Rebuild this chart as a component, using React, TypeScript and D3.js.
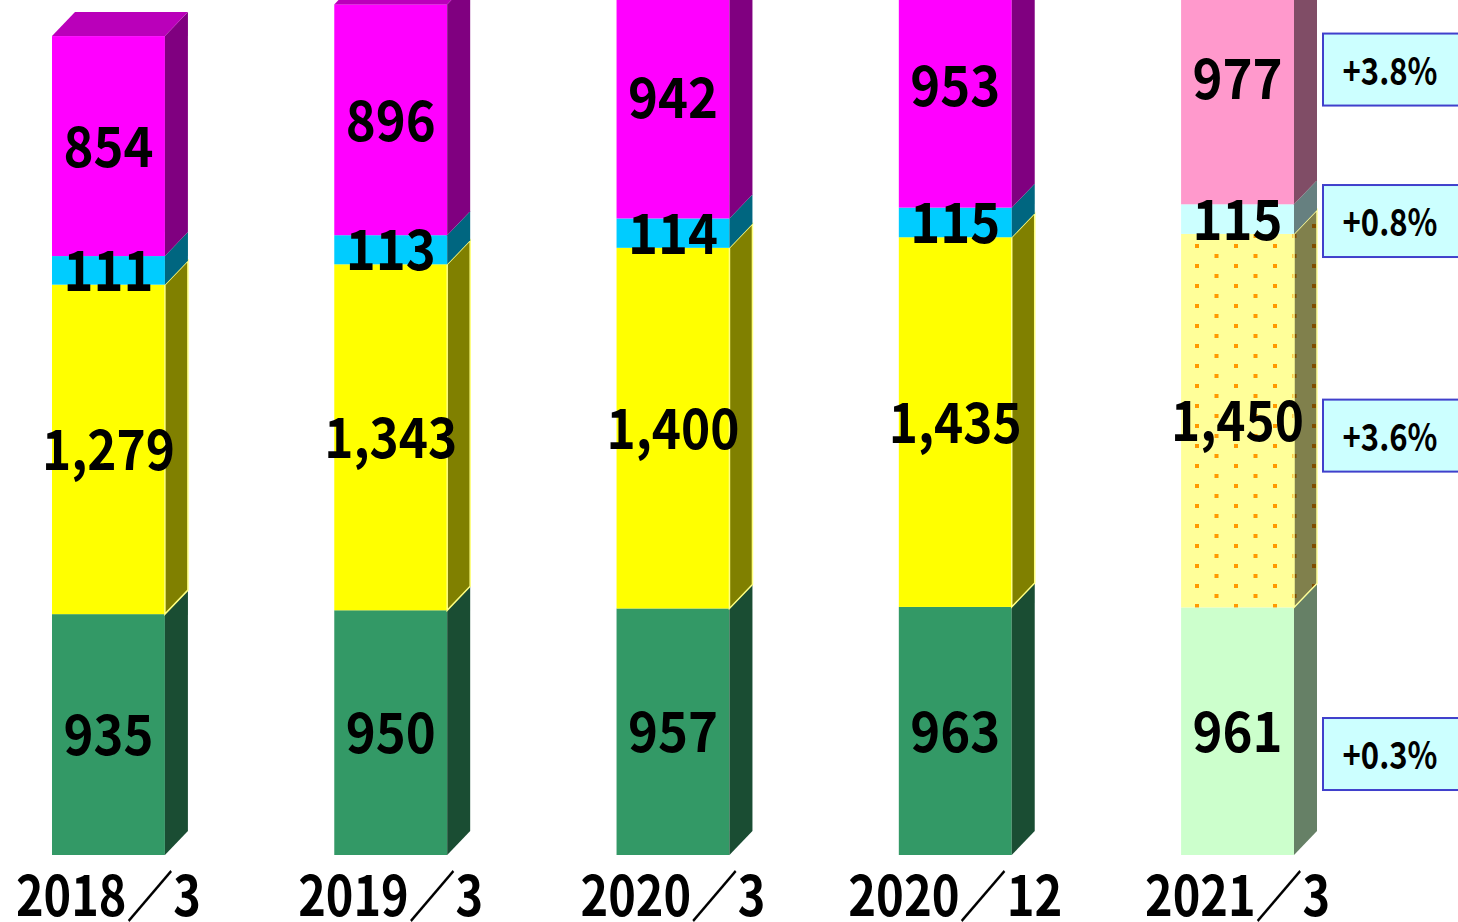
import { useEffect, useRef } from 'react';
import * as d3 from 'd3';

// categories (x axis) and stacked series, bottom -> top
const categories = ['2018／3', '2019／3', '2020／3', '2020／12', '2021／3'];
const greenValues = [935, 950, 957, 963, 961];
const yellowValues = [1279, 1343, 1400, 1435, 1450];
const cyanValues = [111, 113, 114, 115, 115];
const magentaValues = [854, 896, 942, 953, 977];

// growth annotations next to the last bar (anchor = value on y scale of the box centre)
const growthLabels = ['+0.3%', '+3.6%', '+0.8%', '+3.8%'];
const growthAnchors = [392, 1628, 2461, 3049];

const actualColors = ['#339966', '#FFFF00', '#00CCFF', '#FF00FF'];
const forecastColors = ['#CCFFCC', 'url(#dotFront)', '#CCFFFF', '#FF99CC'];
const forecastSideColors = ['#668066', 'url(#dotSide)', '#668080', '#804D66'];

const W = 1458;
const H = 922;
const DX = 23;
const DY = 24;
const FONT = '"Noto Sans CJK JP", "Noto Sans", sans-serif';

const shade = (c: string, k: number) => {
  const r = d3.rgb(c);
  return d3.rgb(r.r * k, r.g * k, r.b * k).formatHex();
};

// 元の図は字幅が狭いので、桁数から文字列の幅を決める
const numWidth = (s: string) => {
  let w = 0;
  for (const ch of s) {
    if (/[0-9]/.test(ch)) w += 30;
    else if (ch === ',') w += 13;
    else w += 40;
  }
  return w;
};
const catWidth = (s: string) => {
  let w = 0;
  for (const ch of s) w += /[0-9]/.test(ch) ? 29 : 40;
  return w;
};

export default function App() {
  const svgRef = useRef<SVGSVGElement | null>(null);

  useEffect(() => {
    if (!svgRef.current) return;
    const svg = d3.select(svgRef.current);
    svg.selectAll('*').remove();

    const x = d3.scaleBand().domain(categories).range([52, 1294]).paddingInner(0.6).paddingOuter(0);
    const y = d3.scaleLinear().domain([0, 3319]).range([855, 0]);
    const bw = x.bandwidth();

    // 予想の点模様
    const defs = svg.append('defs');
    const mkPattern = (id: string, bg: string, dot: string) => {
      const p = defs.append('pattern')
        .attr('id', id)
        .attr('patternUnits', 'userSpaceOnUse')
        .attr('x', 1195).attr('y', 244)
        .attr('width', 39).attr('height', 20);
      p.append('rect').attr('width', 39).attr('height', 20).attr('fill', bg);
      p.append('rect').attr('x', 0).attr('y', 0).attr('width', 4).attr('height', 4).attr('fill', dot);
      p.append('rect').attr('x', 19.5).attr('y', 10).attr('width', 4).attr('height', 4).attr('fill', dot);
    };
    mkPattern('dotFront', '#FFFF99', '#FF9900');
    mkPattern('dotSide', '#80804C', '#804D00');

    const stackData = categories.map((c, i) => ({
      cat: c,
      s0: greenValues[i],
      s1: yellowValues[i],
      s2: cyanValues[i],
      s3: magentaValues[i],
    }));
    const series = d3.stack<any>().keys(['s0', 's1', 's2', 's3'])(stackData);
    const last = categories.length - 1;

    const g = svg.append('g');

    series.forEach((s, si) => {
      s.forEach((d, i) => {
        const x0 = x(categories[i])!;
        const yT = y(d[1]);
        const yB = y(d[0]);
        const isF = i === last;
        const front = isF ? forecastColors[si] : actualColors[si];
        const side = isF ? forecastSideColors[si] : shade(actualColors[si], 0.5);
        const isYellow = si === 1;
        const stroke = isYellow ? (isF ? '#FFFF99' : '#FFFF80') : 'none';

        g.append('rect')
          .attr('x', x0).attr('y', yT)
          .attr('width', bw).attr('height', yB - yT)
          .attr('fill', front);

        g.append('path')
          .attr('d', `M${x0 + bw},${yB}L${x0 + bw},${yT}L${x0 + bw + DX},${yT - DY}L${x0 + bw + DX},${yB - DY}Z`)
          .attr('fill', side)
          .attr('stroke', stroke)
          .attr('stroke-width', isYellow ? 1.5 : 0);

        if (si === series.length - 1) {
          const topCol = isF ? shade('#FF99CC', 0.73) : shade(actualColors[si], 0.73);
          g.append('path')
            .attr('d', `M${x0},${yT}L${x0 + DX},${yT - DY}L${x0 + bw + DX},${yT - DY}L${x0 + bw},${yT}Z`)
            .attr('fill', topCol);
        }
      });
    });

    // 数値ラベル
    series.forEach((s) => {
      s.forEach((d, i) => {
        const t = d3.format(',')(d[1] - d[0]);
        g.append('text')
          .attr('x', x(categories[i])! + bw / 2)
          .attr('y', (y(d[0]) + y(d[1])) / 2)
          .attr('dy', '0.37em')
          .attr('text-anchor', 'middle')
          .attr('font-family', FONT)
          .attr('font-weight', 700)
          .attr('font-size', 56)
          .attr('textLength', numWidth(t))
          .attr('lengthAdjust', 'spacingAndGlyphs')
          .attr('fill', '#000')
          .text(t);
      });
    });

    // x軸ラベル
    g.selectAll('text.xl')
      .data(categories)
      .join('text')
      .attr('class', 'xl')
      .attr('x', (c) => x(c)! + bw / 2)
      .attr('y', 916)
      .attr('text-anchor', 'middle')
      .attr('font-family', FONT)
      .attr('font-weight', 700)
      .attr('font-size', 55)
      .attr('textLength', (c) => catWidth(c))
      .attr('lengthAdjust', 'spacingAndGlyphs')
      .attr('fill', '#000')
      .text((c) => c);

    // 伸び率ボックス
    const ann = g.selectAll('g.ann')
      .data(growthLabels)
      .join('g')
      .attr('class', 'ann');
    ann.append('rect')
      .attr('x', 1323)
      .attr('y', (_, i) => y(growthAnchors[i]) - 36)
      .attr('width', 140)
      .attr('height', 72)
      .attr('fill', '#CCFFFF')
      .attr('stroke', '#4040CC')
      .attr('stroke-width', 2);
    ann.append('text')
      .attr('x', 1390)
      .attr('y', (_, i) => y(growthAnchors[i]))
      .attr('dy', '0.4em')
      .attr('text-anchor', 'middle')
      .attr('font-family', FONT)
      .attr('font-weight', 700)
      .attr('font-size', 38)
      .attr('textLength', 95)
      .attr('lengthAdjust', 'spacingAndGlyphs')
      .attr('fill', '#000')
      .text((t) => t);
  }, []);

  return (
    <svg
      ref={svgRef}
      width={W}
      height={H}
      style={{ position: 'absolute', left: 0, top: 0, background: '#fff' }}
    />
  );
}
